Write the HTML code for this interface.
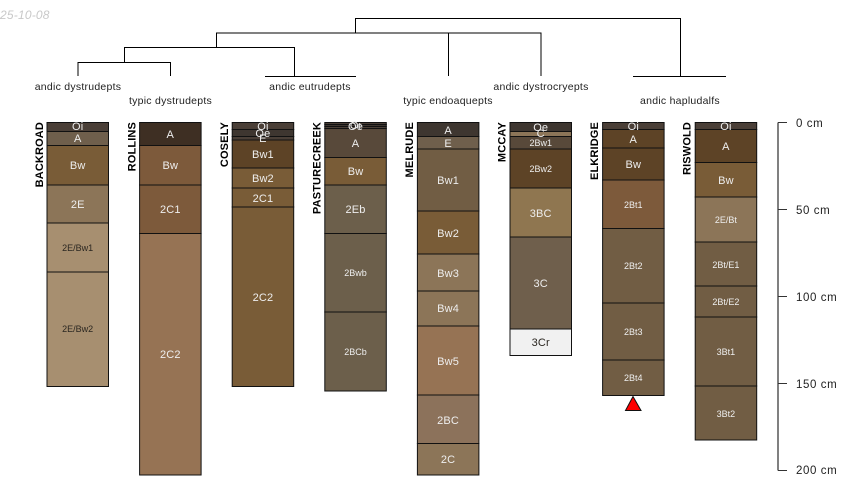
<!DOCTYPE html>
<html><head><meta charset="utf-8"><style>
html,body{margin:0;padding:0;background:#fff}
svg{display:block}
text{font-family:"Liberation Sans",sans-serif}
.h text{font-size:11px;fill:#eee;text-anchor:middle;letter-spacing:.15px}
.h text.s{font-size:9px;letter-spacing:0}
.h text.d{fill:#2a2620}
.h rect{stroke:#111;stroke-width:1}
.t{font-size:10.5px;fill:#222;text-anchor:middle;letter-spacing:.25px}
.n{font-size:11px;font-weight:bold;fill:#000;text-anchor:end;letter-spacing:.15px}
.a{font-size:11.5px;fill:#222;letter-spacing:.6px}
.l{stroke:#000;stroke-width:1;fill:none}
</style></head><body>
<svg width="850" height="500" viewBox="0 0 850 500" xmlns="http://www.w3.org/2000/svg">
<rect width="850" height="500" fill="#fff"/>
<text x="0" y="19" font-size="12" font-style="italic" fill="#c8c8c8" letter-spacing=".2">25-10-08</text>

<path class="l" d="M355.5 33V18.5H680.5V76M216.5 47V33H541V76M448.5 33V76M124.5 62V47.5H294.5V76M78 76V62.5H170.5V76M265 76.5H356M633 76.5H726"/>

<text class="t" x="78" y="90">andic dystrudepts</text>
<text class="t" x="170.5" y="104">typic dystrudepts</text>
<text class="t" x="310" y="90">andic eutrudepts</text>
<text class="t" x="448" y="104">typic endoaquepts</text>
<text class="t" x="541" y="90">andic dystrocryepts</text>
<text class="t" x="680" y="104">andic hapludalfs</text>

<text class="n" transform="rotate(-90 43 122)" x="43" y="122">BACKROAD</text>
<text class="n" transform="rotate(-90 135.5 122)" x="135.5" y="122">ROLLINS</text>
<text class="n" transform="rotate(-90 228 122)" x="228" y="122">COSELY</text>
<text class="n" transform="rotate(-90 320.5 122)" x="320.5" y="122">PASTURECREEK</text>
<text class="n" transform="rotate(-90 413 122)" x="413" y="122">MELRUDE</text>
<text class="n" transform="rotate(-90 505.5 122)" x="505.5" y="122">MCCAY</text>
<text class="n" transform="rotate(-90 598 122)" x="598" y="122">ELKRIDGE</text>
<text class="n" transform="rotate(-90 690.5 122)" x="690.5" y="122">RISWOLD</text>

<g class="h">
<rect x="47" y="122.5" width="61.5" height="9" fill="#4a3f37"/>
<rect x="47" y="131.5" width="61.5" height="14" fill="#6f5f4c"/>
<rect x="47" y="145.5" width="61.5" height="39.5" fill="#795c37"/>
<rect x="47" y="185" width="61.5" height="38" fill="#8c7558"/>
<rect x="47" y="223" width="61.5" height="49" fill="#a78f70"/>
<rect x="47" y="272" width="61.5" height="114.5" fill="#a78f70"/>
<text x="77.7" y="130">Oi</text><text x="77.7" y="142">A</text><text x="77.7" y="169">Bw</text><text x="77.7" y="208">2E</text>
<text x="77.7" y="251" class="s d">2E/Bw1</text><text x="77.7" y="332" class="s d">2E/Bw2</text>

<rect x="139.6" y="122.5" width="61.5" height="23" fill="#3e2f23"/>
<rect x="139.6" y="145.5" width="61.5" height="39.5" fill="#7d5a3b"/>
<rect x="139.6" y="185" width="61.5" height="48.5" fill="#7d5a3b"/>
<rect x="139.6" y="233.5" width="61.5" height="241.5" fill="#967354"/>
<text x="170.3" y="138">A</text><text x="170.3" y="169">Bw</text><text x="170.3" y="213">2C1</text><text x="170.3" y="358">2C2</text>

<rect x="232.2" y="122.5" width="61.5" height="7" fill="#4a3f37"/>
<rect x="232.2" y="129.5" width="61.5" height="7" fill="#3e3630"/>
<rect x="232.2" y="136.5" width="61.5" height="3.5" fill="#4a3f37"/>
<rect x="232.2" y="140" width="61.5" height="28" fill="#5d4326"/>
<rect x="232.2" y="168" width="61.5" height="20" fill="#795c37"/>
<rect x="232.2" y="188" width="61.5" height="19" fill="#795c37"/>
<rect x="232.2" y="207" width="61.5" height="179.5" fill="#795c37"/>
<text x="262.9" y="130">Oi</text><text x="262.9" y="137">Oe</text><text x="262.9" y="142">E</text><text x="262.9" y="158">Bw1</text><text x="262.9" y="182">Bw2</text><text x="262.9" y="202">2C1</text><text x="262.9" y="301">2C2</text>

<rect x="324.8" y="122.5" width="61.5" height="2" fill="#4a3f37"/>
<rect x="324.8" y="124.5" width="61.5" height="2" fill="#3e3630"/>
<rect x="324.8" y="126.5" width="61.5" height="2" fill="#4a3f37"/>
<rect x="324.8" y="128.5" width="61.5" height="29" fill="#58493a"/>
<rect x="324.8" y="157.5" width="61.5" height="27.5" fill="#795c37"/>
<rect x="324.8" y="185" width="61.5" height="48.5" fill="#6c5f4b"/>
<rect x="324.8" y="233.5" width="61.5" height="78.5" fill="#6c5f4b"/>
<rect x="324.8" y="312" width="61.5" height="79" fill="#6c5f4b"/>
<text x="355.5" y="129">Oi</text><text x="355.5" y="130">Oe</text><text x="355.5" y="147">A</text><text x="355.5" y="175">Bw</text><text x="355.5" y="213">2Eb</text>
<text x="355.5" y="276" class="s">2Bwb</text><text x="355.5" y="355" class="s">2BCb</text>

<rect x="417.4" y="122.5" width="61.5" height="14" fill="#3e3630"/>
<rect x="417.4" y="136.5" width="61.5" height="12.5" fill="#6f5f4c"/>
<rect x="417.4" y="149" width="61.5" height="62" fill="#715d44"/>
<rect x="417.4" y="211" width="61.5" height="43" fill="#795c37"/>
<rect x="417.4" y="254" width="61.5" height="37" fill="#8c7558"/>
<rect x="417.4" y="291" width="61.5" height="35" fill="#8c7558"/>
<rect x="417.4" y="326" width="61.5" height="69" fill="#967354"/>
<rect x="417.4" y="395" width="61.5" height="48.5" fill="#8c725b"/>
<rect x="417.4" y="443.5" width="61.5" height="31.5" fill="#8c7558"/>
<text x="448.1" y="134">A</text><text x="448.1" y="147">E</text><text x="448.1" y="184">Bw1</text><text x="448.1" y="237">Bw2</text><text x="448.1" y="277">Bw3</text><text x="448.1" y="312">Bw4</text><text x="448.1" y="365">Bw5</text><text x="448.1" y="424">2BC</text><text x="448.1" y="463">2C</text>

<rect x="510" y="122.5" width="61.5" height="9" fill="#3e3630"/>
<rect x="510" y="131.5" width="61.5" height="5" fill="#8c7558"/>
<rect x="510" y="136.5" width="61.5" height="12.5" fill="#58493a"/>
<rect x="510" y="149" width="61.5" height="39" fill="#5d4326"/>
<rect x="510" y="188" width="61.5" height="49" fill="#8f7650"/>
<rect x="510" y="237" width="61.5" height="92" fill="#6f5f4c"/>
<rect x="510" y="329" width="61.5" height="26.5" fill="#f1f1f1"/>
<text x="540.7" y="131">Oe</text><text x="540.7" y="137">C</text><text x="540.7" y="146" class="s">2Bw1</text><text x="540.7" y="172" class="s">2Bw2</text><text x="540.7" y="217">3BC</text><text x="540.7" y="287">3C</text><text x="540.7" y="346" class="d">3Cr</text>

<rect x="602.6" y="122.5" width="61.5" height="7" fill="#4a3f37"/>
<rect x="602.6" y="129.5" width="61.5" height="18.5" fill="#5d4326"/>
<rect x="602.6" y="148" width="61.5" height="32" fill="#5d4326"/>
<rect x="602.6" y="180" width="61.5" height="48.5" fill="#7d5a3b"/>
<rect x="602.6" y="228.5" width="61.5" height="74.5" fill="#715d44"/>
<rect x="602.6" y="303" width="61.5" height="57" fill="#715d44"/>
<rect x="602.6" y="360" width="61.5" height="35.5" fill="#715d44"/>
<text x="633.3" y="130">Oi</text><text x="633.3" y="143">A</text><text x="633.3" y="168">Bw</text>
<text x="633.3" y="208" class="s">2Bt1</text><text x="633.3" y="269" class="s">2Bt2</text><text x="633.3" y="335" class="s">2Bt3</text><text x="633.3" y="381" class="s">2Bt4</text>

<rect x="695.2" y="122.5" width="61.5" height="7" fill="#4a3f37"/>
<rect x="695.2" y="129.5" width="61.5" height="33" fill="#5d4326"/>
<rect x="695.2" y="162.5" width="61.5" height="34.5" fill="#795c37"/>
<rect x="695.2" y="197" width="61.5" height="45" fill="#8c7558"/>
<rect x="695.2" y="242" width="61.5" height="44" fill="#715d44"/>
<rect x="695.2" y="286" width="61.5" height="31" fill="#715d44"/>
<rect x="695.2" y="317" width="61.5" height="69" fill="#715d44"/>
<rect x="695.2" y="386" width="61.5" height="54" fill="#715d44"/>
<text x="725.9" y="130">Oi</text><text x="725.9" y="150">A</text><text x="725.9" y="184">Bw</text>
<text x="725.9" y="223" class="s">2E/Bt</text><text x="725.9" y="268" class="s">2Bt/E1</text><text x="725.9" y="305" class="s">2Bt/E2</text><text x="725.9" y="355" class="s">3Bt1</text><text x="725.9" y="417" class="s">3Bt2</text>
</g>

<polygon points="633,396.5 625.5,410.5 641,410.5" fill="#f00" stroke="#111" stroke-width="1"/>

<path d="M778 122.5V470.5" fill="none" stroke="#000" stroke-width="1"/>
<path d="M787 122.5H778M787 209.5H778M787 296.5H778M787 383.5H778M787 470.5H778" fill="none" stroke="#333" stroke-width="1"/>
<text class="a" x="796" y="127">0 cm</text>
<text class="a" x="796" y="214">50 cm</text>
<text class="a" x="796" y="301">100 cm</text>
<text class="a" x="796" y="388">150 cm</text>
<text class="a" x="796" y="474">200 cm</text>
</svg>
</body></html>
